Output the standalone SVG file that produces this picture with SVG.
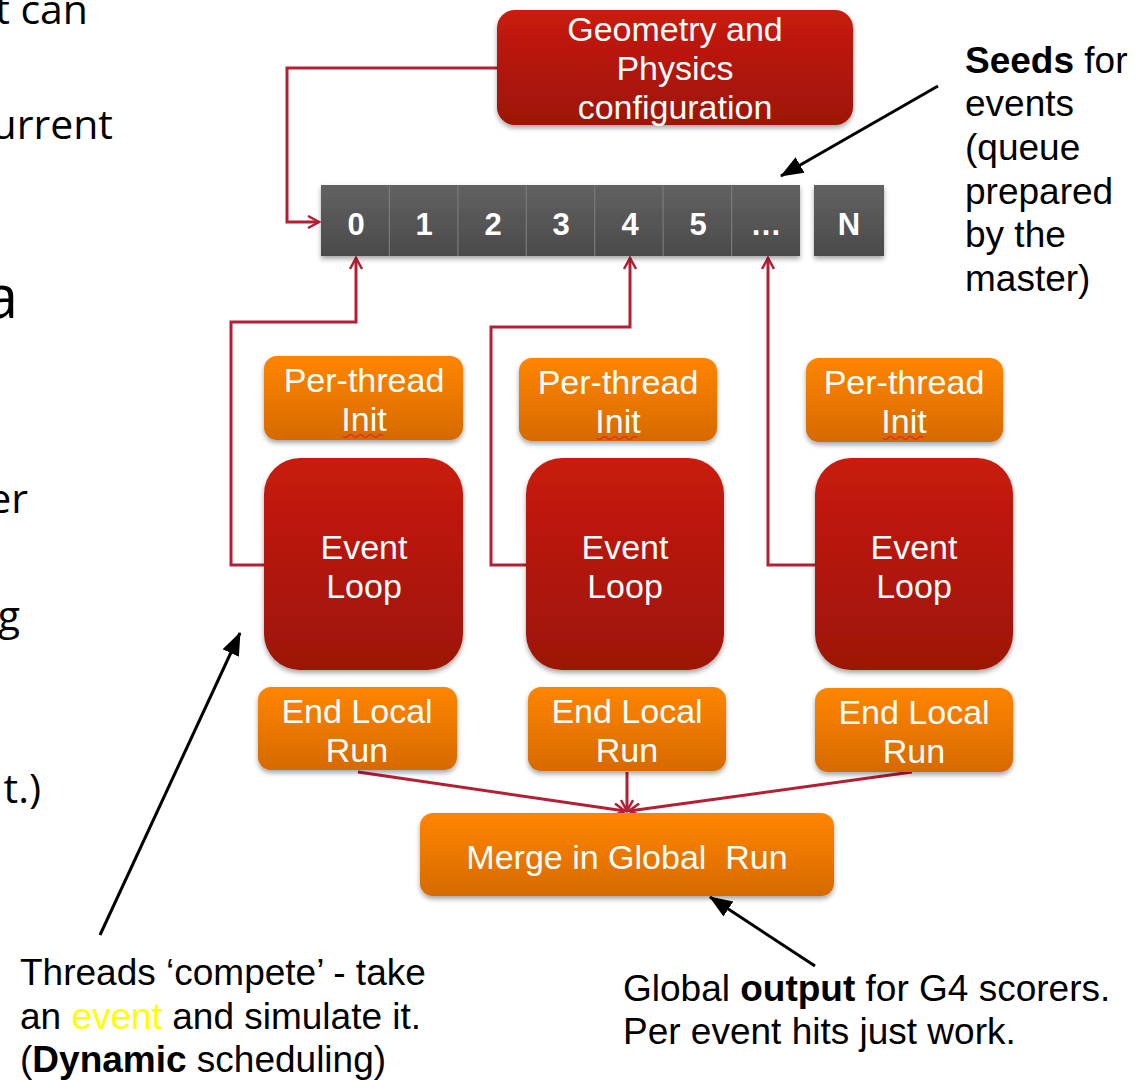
<svg xmlns="http://www.w3.org/2000/svg" width="1140" height="1080" viewBox="0 0 1140 1080">
<defs>
<linearGradient id="gRed" x1="0" y1="0" x2="0" y2="1"><stop offset="0" stop-color="#c91b0b"/><stop offset="1" stop-color="#9c1206"/></linearGradient>
<linearGradient id="gOr" x1="0" y1="0" x2="0" y2="1"><stop offset="0" stop-color="#ff8500"/><stop offset="1" stop-color="#d66a02"/></linearGradient>
<linearGradient id="gGray" x1="0" y1="0" x2="0" y2="1"><stop offset="0" stop-color="#626262"/><stop offset="1" stop-color="#4a4a4a"/></linearGradient>
<filter id="sh" x="-10%" y="-10%" width="120%" height="130%"><feDropShadow dx="0" dy="3" stdDeviation="2.5" flood-color="#000" flood-opacity="0.35"/></filter>
<marker id="mRed" viewBox="0 0 14 14" refX="12" refY="7" markerWidth="14" markerHeight="14" markerUnits="userSpaceOnUse" orient="auto"><path d="M1,1 L12,7 L1,13" fill="none" stroke="#b31f35" stroke-width="2.5"/></marker>
<marker id="mBlk" viewBox="0 0 24 20" refX="22" refY="10" markerWidth="24" markerHeight="20" markerUnits="userSpaceOnUse" orient="auto"><path d="M0,1 L23,10 L0,19 Z" fill="#000"/></marker>
</defs>
<style>
.lbl{font-family:"Liberation Sans",Arial,sans-serif;font-size:34px;fill:#fff;text-anchor:middle}
.dig{font-family:"Liberation Sans",Arial,sans-serif;font-size:31px;font-weight:bold;fill:#fff;text-anchor:middle}
.note{font-family:"Liberation Sans",Arial,sans-serif;font-size:37px;fill:#000}
.frag{font-family:"Open Sans","Noto Sans",sans-serif;font-size:41px;fill:#000;text-anchor:end}
.con{fill:none;stroke:#b31f35;stroke-width:3}
.blk{fill:none;stroke:#000;stroke-width:3}
.sq{fill:none;stroke:#e03030;stroke-width:1.5}
</style>
<rect width="1140" height="1080" fill="#fff"/>

<g id="fragments">
<text class="frag" x="88" y="24">t can</text>
<text class="frag" x="113" y="139">urrent</text>
<text class="frag" x="18" y="318" style="font-size:60px">a</text>
<text class="frag" x="28" y="513">er</text>
<text class="frag" x="20" y="630">g</text>
<text class="frag" x="41" y="803">t.)</text>
</g>

<g id="connectors">
<polyline class="con" points="497,68 287,68 287,222 319,222" marker-end="url(#mRed)"/>
<polyline class="con" points="265,565 231,565 231,322 356,322 356,258" marker-end="url(#mRed)"/>
<polyline class="con" points="527,565 491,565 491,327 630,327 630,258" marker-end="url(#mRed)"/>
<polyline class="con" points="815,565 768,565 768,258" marker-end="url(#mRed)"/>
<line class="con" x1="358" y1="772" x2="625" y2="811" marker-end="url(#mRed)"/>
<line class="con" x1="627" y1="772" x2="627" y2="811" marker-end="url(#mRed)"/>
<line class="con" x1="912" y1="772" x2="629" y2="811" marker-end="url(#mRed)"/>
<line class="blk" x1="938" y1="86" x2="781" y2="176" marker-end="url(#mBlk)"/>
<line class="blk" x1="100" y1="935" x2="240" y2="633" marker-end="url(#mBlk)"/>
<line class="blk" x1="815" y1="966" x2="710" y2="897" marker-end="url(#mBlk)"/>
</g>

<g id="geometry">
<rect x="497" y="10" width="356" height="115" rx="18" fill="url(#gRed)" filter="url(#sh)"/>
<text class="lbl" x="675" y="41">Geometry and</text>
<text class="lbl" x="675" y="80">Physics</text>
<text class="lbl" x="675" y="119">configuration</text>
</g>

<g id="seeds">
<rect x="321" y="185" width="479" height="71" fill="url(#gGray)" filter="url(#sh)"/>
<g stroke="#7a7a7a" stroke-width="1.2">
<line x1="389.4" y1="185" x2="389.4" y2="256"/>
<line x1="457.9" y1="185" x2="457.9" y2="256"/>
<line x1="526.3" y1="185" x2="526.3" y2="256"/>
<line x1="594.7" y1="185" x2="594.7" y2="256"/>
<line x1="663.1" y1="185" x2="663.1" y2="256"/>
<line x1="731.6" y1="185" x2="731.6" y2="256"/>
</g>
<rect x="814" y="185" width="70" height="71" fill="url(#gGray)" filter="url(#sh)"/>
<text class="dig" x="356" y="235">0</text>
<text class="dig" x="424" y="235">1</text>
<text class="dig" x="493" y="235">2</text>
<text class="dig" x="561" y="235">3</text>
<text class="dig" x="630" y="235">4</text>
<text class="dig" x="698" y="235">5</text>
<text class="dig" x="766" y="235">…</text>
<text class="dig" x="849" y="235">N</text>
</g>

<g id="init1">
<rect x="264" y="356" width="199" height="84" rx="13" fill="url(#gOr)" filter="url(#sh)"/>
<text class="lbl" x="364" y="392">Per-thread</text>
<text class="lbl" x="364" y="431">Init</text>
<path class="sq" d="M343,436 q2.5,3 5,0 t5,0 t5,0 t5,0 t5,0 t5,0 t5,0 t5,0"/>
</g>
<g id="init2">
<rect x="519" y="358" width="198" height="83" rx="13" fill="url(#gOr)" filter="url(#sh)"/>
<text class="lbl" x="618" y="394">Per-thread</text>
<text class="lbl" x="618" y="433">Init</text>
<path class="sq" d="M597,438 q2.5,3 5,0 t5,0 t5,0 t5,0 t5,0 t5,0 t5,0 t5,0"/>
</g>
<g id="init3">
<rect x="806" y="358" width="197" height="84" rx="13" fill="url(#gOr)" filter="url(#sh)"/>
<text class="lbl" x="904" y="394">Per-thread</text>
<text class="lbl" x="904" y="433">Init</text>
<path class="sq" d="M883,438 q2.5,3 5,0 t5,0 t5,0 t5,0 t5,0 t5,0 t5,0 t5,0"/>
</g>

<g id="loop1">
<rect x="264" y="458" width="199" height="212" rx="36" fill="url(#gRed)" filter="url(#sh)"/>
<text class="lbl" x="364" y="559">Event</text>
<text class="lbl" x="364" y="598">Loop</text>
</g>
<g id="loop2">
<rect x="526" y="458" width="198" height="212" rx="36" fill="url(#gRed)" filter="url(#sh)"/>
<text class="lbl" x="625" y="559">Event</text>
<text class="lbl" x="625" y="598">Loop</text>
</g>
<g id="loop3">
<rect x="815" y="458" width="198" height="212" rx="36" fill="url(#gRed)" filter="url(#sh)"/>
<text class="lbl" x="914" y="559">Event</text>
<text class="lbl" x="914" y="598">Loop</text>
</g>

<g id="end1">
<rect x="258" y="687" width="199" height="83" rx="13" fill="url(#gOr)" filter="url(#sh)"/>
<text class="lbl" x="357" y="723">End Local</text>
<text class="lbl" x="357" y="762">Run</text>
</g>
<g id="end2">
<rect x="528" y="687" width="198" height="84" rx="13" fill="url(#gOr)" filter="url(#sh)"/>
<text class="lbl" x="627" y="723">End Local</text>
<text class="lbl" x="627" y="762">Run</text>
</g>
<g id="end3">
<rect x="815" y="688" width="198" height="84" rx="13" fill="url(#gOr)" filter="url(#sh)"/>
<text class="lbl" x="914" y="724">End Local</text>
<text class="lbl" x="914" y="763">Run</text>
</g>

<g id="merge">
<rect x="420" y="813" width="414" height="83" rx="13" fill="url(#gOr)" filter="url(#sh)"/>
<text class="lbl" x="627" y="869" xml:space="preserve">Merge in Global  Run</text>
</g>

<g id="note-seeds">
<text class="note" x="965" y="73"><tspan font-weight="bold">Seeds</tspan> for</text>
<text class="note" x="965" y="116">events</text>
<text class="note" x="965" y="160">(queue</text>
<text class="note" x="965" y="204">prepared</text>
<text class="note" x="965" y="247">by the</text>
<text class="note" x="965" y="291">master)</text>
</g>

<g id="note-threads">
<text class="note" x="20" y="985">Threads ‘compete’ - take</text>
<text class="note" x="20" y="1029">an <tspan fill="#ffff00">event</tspan> and simulate it.</text>
<text class="note" x="20" y="1072">(<tspan font-weight="bold">Dynamic</tspan> scheduling)</text>
</g>

<g id="note-output">
<text class="note" x="623" y="1001">Global <tspan font-weight="bold">output</tspan> for G4 scorers.</text>
<text class="note" x="623" y="1044">Per event hits just work.</text>
</g>
</svg>
